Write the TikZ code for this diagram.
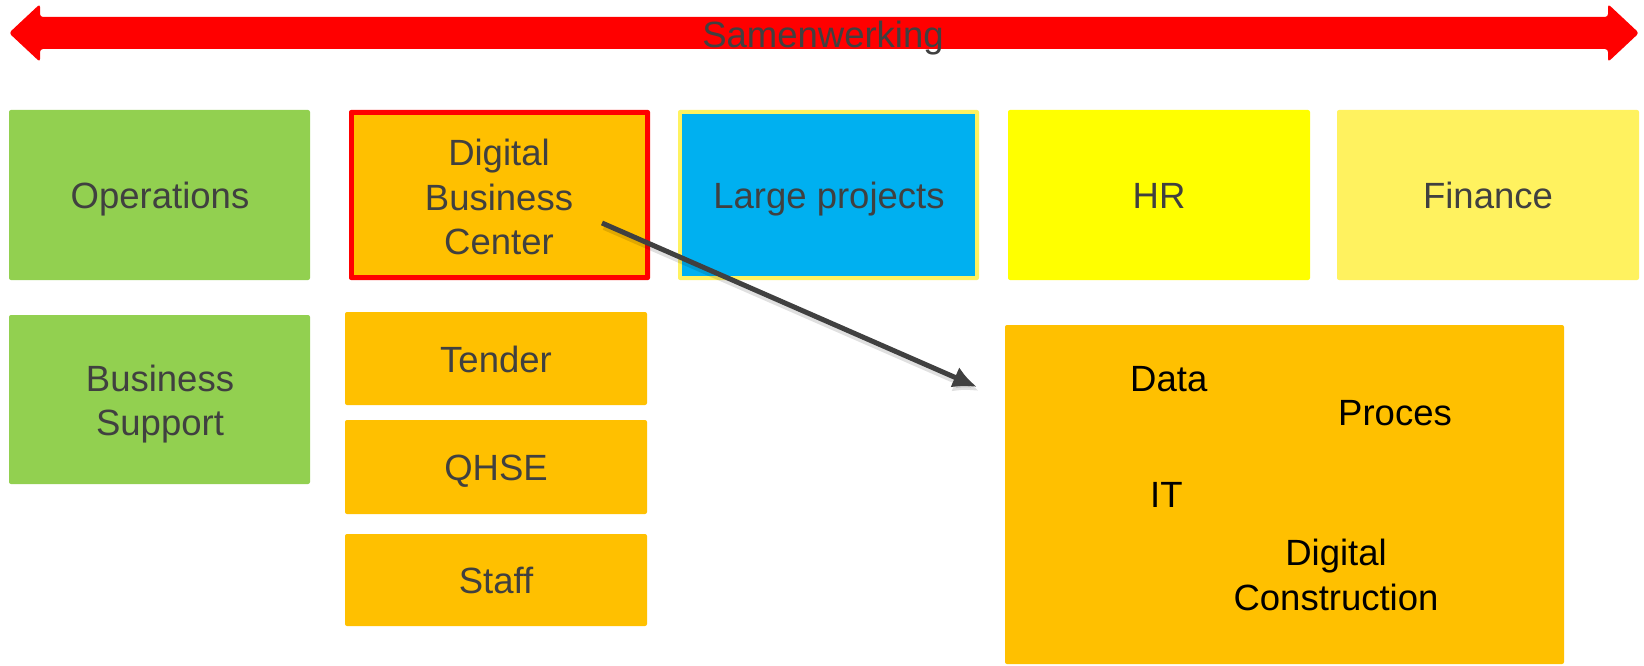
\documentclass[tikz,border=0pt]{standalone}
\usepackage{fontspec}
\setmainfont{Liberation Sans}
\usetikzlibrary{arrows.meta}
\definecolor{cgreen}{HTML}{92D050}
\definecolor{corange}{HTML}{FFC000}
\definecolor{cblue}{HTML}{00B0F0}
\definecolor{cyellow}{HTML}{FFFF00}
\definecolor{clyellow}{HTML}{FFF25F}
\definecolor{cred}{HTML}{FF0000}
\definecolor{ctext}{HTML}{404040}
\begin{document}
\begin{tikzpicture}[x=1pt,y=-1pt,
  boxtxt/.style={text=ctext,align=center,inner sep=0pt,font=\fontsize{36.5}{44.5}\selectfont},
  intxt/.style={text=black,inner sep=0pt,font=\fontsize{36.5}{45}\selectfont},
  tile/.style={rounded corners=2pt},
  link/.style={draw=ctext,line width=5pt,-{Latex[length=24pt,width=22pt]}}]
\useasboundingbox (0,0) rectangle (1644,666);
% Samenwerking double arrow
\fill[cred,rounded corners=3pt] (9,33) -- (40,4) -- (40,17) -- (1608,17) -- (1608,4) -- (1639,33) -- (1608,62) -- (1608,49) -- (40,49) -- (40,62) -- cycle;
\node[boxtxt,anchor=base] (sam) at (823,48) {Samenwerking};
% top row
\fill[tile,cgreen] (9,110) rectangle (310,280);
\node[boxtxt] (ops) at (160,199) {Operations};
\fill[tile,cred] (349,110) rectangle (650,280);
\fill[corange] (354,115) rectangle (645,275);
\node[boxtxt] (dbc) at (499,197) {Digital\\Business\\Center};
\fill[tile,clyellow] (678,110) rectangle (979,280);
\fill[cblue] (682,114) rectangle (975,276);
\node[boxtxt] (lp) at (829,199) {Large projects};
\fill[tile,cyellow] (1008,110) rectangle (1310,280);
\node[boxtxt] (hr) at (1159,196) {HR};
\fill[tile,clyellow] (1337,110) rectangle (1639,280);
\node[boxtxt] (fin) at (1488,195) {Finance};
% second column
\fill[tile,cgreen] (9,315) rectangle (310,484);
\node[boxtxt] (bs) at (160,404) {Business\\Support};
\fill[tile,corange] (345,312) rectangle (647,405);
\node[boxtxt] (ten) at (496,359) {Tender};
\fill[tile,corange] (345,420) rectangle (647,514);
\node[boxtxt] (qhse) at (496,471) {QHSE};
\fill[tile,corange] (345,534) rectangle (647,626);
\node[boxtxt] (staff) at (496,580) {Staff};
% big box
\fill[tile,corange] (1005,325) rectangle (1564,664);
\node[intxt,anchor=base west] (data) at (1130,391) {Data};
\node[intxt,anchor=base west] (proc) at (1338,425) {Proces};
\node[intxt,anchor=base west] (it) at (1150,507) {IT};
\node[intxt,align=center] (dc) at (1336,575) {Digital\\Construction};
% connector
\coordinate (a0) at (602,223);
\coordinate (a1) at (977,387);
\draw[line width=6pt,black,opacity=0.12,-{Latex[length=25pt,width=23pt]}] ([shift={(2,4)}]a0) -- ([shift={(2,4)}]a1);
\draw[link] (a0) -- (a1);
\end{tikzpicture}
\end{document}
